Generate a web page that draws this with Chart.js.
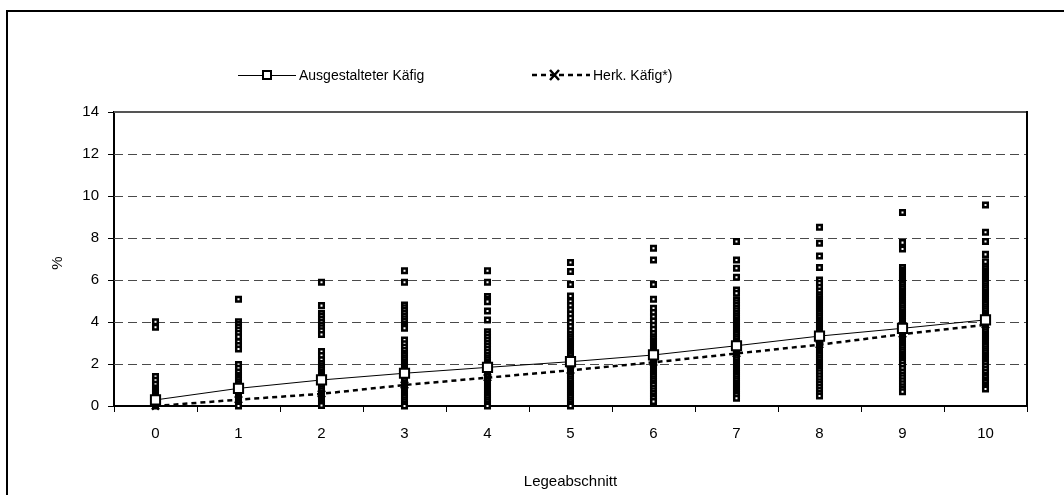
<!DOCTYPE html>
<html>
<head>
<meta charset="utf-8">
<script src="https://cdn.jsdelivr.net/npm/chart.js@4.4.1/dist/chart.umd.min.js"></script>
<style>
  html, body { margin: 0; padding: 0; background: #fff; }
  #wrap { width: 1064px; height: 495px; }
</style>
</head>
<body>
<div id="wrap"><canvas id="c" width="1064" height="495"></canvas></div>
<script>
// Legeabschnitte (x categories)
const categories = ['0', '1', '2', '3', '4', '5', '6', '7', '8', '9', '10'];

// Mittelwerte je Legeabschnitt
const ausgestaltet = [0.29, 0.84, 1.24, 1.56, 1.84, 2.11, 2.43, 2.87, 3.33, 3.70, 4.10];
const herkoemmlich = [0.00, 0.30, 0.58, 1.00, 1.35, 1.70, 2.08, 2.50, 2.92, 3.42, 3.86];

// Einzelwerte je Legeabschnitt (Ausgestalteter Käfig)
const e0 = [4.01, 3.75, 1.40, 1.22, 1.04, 0.86, 0.76, 0.66, 0.56, 0.46, 0.36, 0.26, 0.16, 0.06, 0.00];
const e1 = [5.08, 4.01, 3.88, 3.76, 3.62, 3.46, 3.30, 3.06, 2.88, 2.71, 1.98, 1.80, 1.62, 1.46, 1.36, 1.26, 1.16, 1.06, 0.96, 0.86, 0.76, 0.66, 0.56, 0.46, 0.36, 0.26, 0.16, 0.06, 0.00];
const e2 = [5.89, 4.78, 4.41, 4.28, 4.14, 4.00, 3.86, 3.72, 3.58, 3.41, 2.59, 2.40, 2.20, 2.02, 1.92, 1.82, 1.72, 1.62, 1.52, 1.42, 1.32, 1.22, 1.12, 1.02, 0.92, 0.82, 0.72, 0.62, 0.52, 0.42, 0.32, 0.22, 0.12, 0.02];
const e3 = [6.44, 5.89, 4.81, 4.68, 4.55, 4.42, 4.29, 4.16, 4.03, 3.90, 3.80, 3.70, 3.14, 2.96, 2.80, 2.64, 2.50, 2.40, 2.30, 2.20, 2.10, 2.00, 1.90, 1.80, 1.70, 1.60, 1.50, 1.40, 1.30, 1.20, 1.10, 1.00, 0.90, 0.80, 0.70, 0.60, 0.50, 0.40, 0.30, 0.20, 0.10, 0.00];
const e4 = [6.44, 5.89, 5.21, 5.08, 4.97, 4.52, 4.10, 3.54, 3.40, 3.26, 3.12, 2.98, 2.84, 2.70, 2.56, 2.42, 2.30, 2.20, 2.10, 2.00, 1.90, 1.80, 1.70, 1.60, 1.50, 1.40, 1.30, 1.20, 1.10, 1.00, 0.90, 0.80, 0.70, 0.60, 0.50, 0.40, 0.30, 0.20, 0.10, 0.00];
const e5 = [6.83, 6.40, 5.79, 5.24, 4.97, 4.78, 4.58, 4.38, 4.18, 3.98, 3.78, 3.58, 3.42, 3.30, 3.20, 3.10, 3.00, 2.90, 2.80, 2.70, 2.60, 2.50, 2.40, 2.30, 2.20, 2.10, 2.00, 1.90, 1.80, 1.70, 1.60, 1.50, 1.40, 1.30, 1.20, 1.10, 1.00, 0.90, 0.80, 0.70, 0.60, 0.50, 0.40, 0.30, 0.20, 0.10, 0.00];
const e6 = [7.51, 6.95, 5.79, 5.08, 4.65, 4.45, 4.25, 4.05, 3.85, 3.65, 3.45, 3.30, 3.20, 3.10, 3.00, 2.90, 2.80, 2.70, 2.60, 2.50, 2.40, 2.30, 2.20, 2.10, 2.00, 1.90, 1.80, 1.70, 1.60, 1.50, 1.40, 1.30, 1.20, 1.10, 1.00, 0.86, 0.72, 0.60, 0.48, 0.36, 0.21];
const e7 = [7.83, 6.95, 6.56, 6.13, 5.52, 5.37, 5.05, 4.92, 4.79, 4.66, 4.53, 4.40, 4.30, 4.20, 4.10, 4.00, 3.90, 3.80, 3.70, 3.60, 3.50, 3.40, 3.30, 3.20, 3.10, 3.00, 2.90, 2.80, 2.70, 2.60, 2.50, 2.40, 2.30, 2.20, 2.10, 2.00, 1.90, 1.80, 1.70, 1.60, 1.50, 1.40, 1.30, 1.20, 1.10, 1.00, 0.90, 0.80, 0.70, 0.60, 0.50, 0.37];
const e8 = [8.51, 7.75, 7.14, 6.59, 6.00, 5.84, 5.66, 5.48, 5.30, 5.20, 5.10, 5.00, 4.90, 4.80, 4.70, 4.60, 4.50, 4.40, 4.30, 4.20, 4.10, 4.00, 3.90, 3.80, 3.70, 3.60, 3.50, 3.40, 3.30, 3.20, 3.10, 3.00, 2.90, 2.80, 2.70, 2.60, 2.50, 2.40, 2.30, 2.20, 2.10, 2.00, 1.90, 1.80, 1.70, 1.58, 1.44, 1.30, 1.16, 1.02, 0.88, 0.74, 0.60, 0.48];
const e9 = [9.21, 7.78, 7.48, 6.59, 6.48, 6.38, 6.28, 6.18, 6.08, 5.98, 5.88, 5.78, 5.68, 5.58, 5.48, 5.38, 5.28, 5.18, 5.08, 4.98, 4.88, 4.78, 4.68, 4.58, 4.48, 4.38, 4.28, 4.18, 4.08, 3.98, 3.88, 3.78, 3.68, 3.58, 3.48, 3.38, 3.28, 3.18, 3.08, 2.98, 2.88, 2.78, 2.68, 2.58, 2.48, 2.38, 2.28, 2.18, 2.08, 1.94, 1.78, 1.62, 1.48, 1.34, 1.20, 1.06, 0.92, 0.80, 0.68];
const e10 = [9.57, 8.27, 7.83, 7.22, 6.87, 6.63, 6.53, 6.43, 6.33, 6.23, 6.13, 6.03, 5.93, 5.83, 5.73, 5.63, 5.53, 5.43, 5.33, 5.23, 5.13, 5.03, 4.93, 4.83, 4.73, 4.63, 4.53, 4.43, 4.33, 4.23, 4.13, 4.03, 3.93, 3.83, 3.73, 3.63, 3.53, 3.43, 3.33, 3.23, 3.13, 3.03, 2.93, 2.83, 2.73, 2.63, 2.53, 2.43, 2.33, 2.23, 2.13, 2.03, 1.90, 1.76, 1.62, 1.48, 1.36, 1.24, 1.12, 1.00, 0.90, 0.81];

// y axis ticks
const yTicks = [0, 2, 4, 6, 8, 10, 12, 14];

const seriesNames = ['Ausgestalteter Käfig', 'Herk. Käfig*)'];
const yTitle = '%';
const xTitle = 'Legeabschnitt';

const FONT = "'Liberation Sans', Arial, sans-serif";

const columns = [e0, e1, e2, e3, e4, e5, e6, e7, e8, e9, e10];
const singlePoints = columns.flatMap((col, i) => col.map(v => ({ x: categories[i], y: v })));

// draws frame, dashed grid, plot border, legend and axis titles
const decor = {
  id: 'decor',
  beforeDatasetsDraw(chart) {
    const { ctx, chartArea: a, scales: { y } } = chart;
    ctx.save();
    ctx.strokeStyle = '#4a4a4a';
    ctx.lineWidth = 1;
    ctx.setLineDash([9, 5]);
    yTicks.forEach(v => {
      if (v === 0 || v === 14) return;
      const py = Math.round(y.getPixelForValue(v)) + 0.5;
      ctx.beginPath();
      ctx.moveTo(a.left, py);
      ctx.lineTo(a.right, py);
      ctx.stroke();
    });
    ctx.setLineDash([]);
    // plot area border: top and right
    ctx.strokeStyle = '#555';
    ctx.lineWidth = 2;
    ctx.beginPath();
    ctx.moveTo(a.left, a.top);
    ctx.lineTo(a.right, a.top);
    ctx.stroke();
    ctx.strokeStyle = '#000';
    ctx.beginPath();
    ctx.moveTo(a.right, a.top - 1);
    ctx.lineTo(a.right, a.bottom);
    ctx.stroke();
    ctx.restore();
  },
  afterDraw(chart) {
    const { ctx, chartArea: a } = chart;
    ctx.save();
    // outer frame
    ctx.strokeStyle = '#000';
    ctx.lineWidth = 2;
    ctx.strokeRect(7, 11, 1100, 600);

    // legend
    const ly = 75;
    ctx.font = '14px ' + FONT;
    ctx.fillStyle = '#000';
    ctx.textBaseline = 'middle';
    ctx.textAlign = 'left';
    // solid line with square marker
    ctx.lineWidth = 1;
    ctx.beginPath();
    ctx.moveTo(238, ly + 0.5);
    ctx.lineTo(296, ly + 0.5);
    ctx.stroke();
    ctx.fillStyle = '#fff';
    ctx.lineWidth = 2;
    ctx.fillRect(263, ly - 4, 8, 8);
    ctx.strokeRect(263, ly - 4, 8, 8);
    ctx.fillStyle = '#000';
    ctx.fillText(seriesNames[0], 299, ly + 1);
    // dashed line with cross marker
    ctx.lineWidth = 2.5;
    ctx.setLineDash([5, 4]);
    ctx.beginPath();
    ctx.moveTo(532, ly);
    ctx.lineTo(590, ly);
    ctx.stroke();
    ctx.setLineDash([]);
    ctx.lineWidth = 2.5;
    ctx.beginPath();
    ctx.moveTo(550, ly - 5); ctx.lineTo(559, ly + 5);
    ctx.moveTo(559, ly - 5); ctx.lineTo(550, ly + 5);
    ctx.stroke();
    ctx.fillText(seriesNames[1], 593, ly + 1);

    // axis titles
    ctx.font = '15px ' + FONT;
    ctx.textAlign = 'center';
    ctx.fillText(xTitle, (a.left + a.right) / 2, 482);
    ctx.translate(58, (a.top + a.bottom) / 2 + 4);
    ctx.rotate(-Math.PI / 2);
    ctx.fillText(yTitle, 0, 0);
    ctx.restore();
  }
};

new Chart(document.getElementById('c'), {
  type: 'line',
  data: {
    labels: categories,
    datasets: [
      {
        label: seriesNames[0],
        data: ausgestaltet,
        order: 0,
        borderColor: '#000',
        borderWidth: 1,
        pointStyle: 'rect',
        pointRadius: 6.5,
        pointBackgroundColor: '#fff',
        pointBorderColor: '#000',
        pointBorderWidth: 2,
        tension: 0,
        clip: false
      },
      {
        label: seriesNames[1],
        data: herkoemmlich,
        order: 1,
        borderColor: '#000',
        borderWidth: 2.5,
        borderDash: [5, 4],
        pointStyle: 'crossRot',
        pointRadius: 5,
        pointBorderColor: '#000',
        pointBorderWidth: 2.5,
        tension: 0,
        clip: false
      },
      {
        label: 'Einzelwerte',
        data: singlePoints,
        order: 2,
        showLine: false,
        pointStyle: 'rect',
        pointRadius: 3.2,
        pointBackgroundColor: '#fff',
        pointBorderColor: '#000',
        pointBorderWidth: 2.5,
        clip: false
      }
    ]
  },
  options: {
    responsive: false,
    animation: false,
    devicePixelRatio: 1,
    layout: { padding: { top: 112, right: 37, left: 0, bottom: 0 } },
    plugins: {
      legend: { display: false },
      tooltip: { enabled: false }
    },
    scales: {
      x: {
        type: 'category',
        offset: true,
        grid: {
          offset: true,
          drawOnChartArea: false,
          drawTicks: true,
          tickLength: 6,
          color: '#000',
          lineWidth: 1
        },
        border: { display: true, color: '#000', width: 2 },
        ticks: { color: '#000', font: { family: FONT, size: 15 }, padding: 13, maxRotation: 0 },
        afterFit(s) { s.height = 89; }
      },
      y: {
        min: 0,
        max: 14,
        afterBuildTicks(s) { s.ticks = yTicks.map(v => ({ value: v })); },
        grid: {
          drawOnChartArea: false,
          drawTicks: true,
          tickLength: 6,
          color: '#000',
          lineWidth: 1
        },
        border: { display: true, color: '#000', width: 2 },
        ticks: { color: '#000', font: { family: FONT, size: 15 }, padding: 9 },
        afterFit(s) { s.width = 114; }
      }
    }
  },
  plugins: [decor]
});
</script>
</body>
</html>
